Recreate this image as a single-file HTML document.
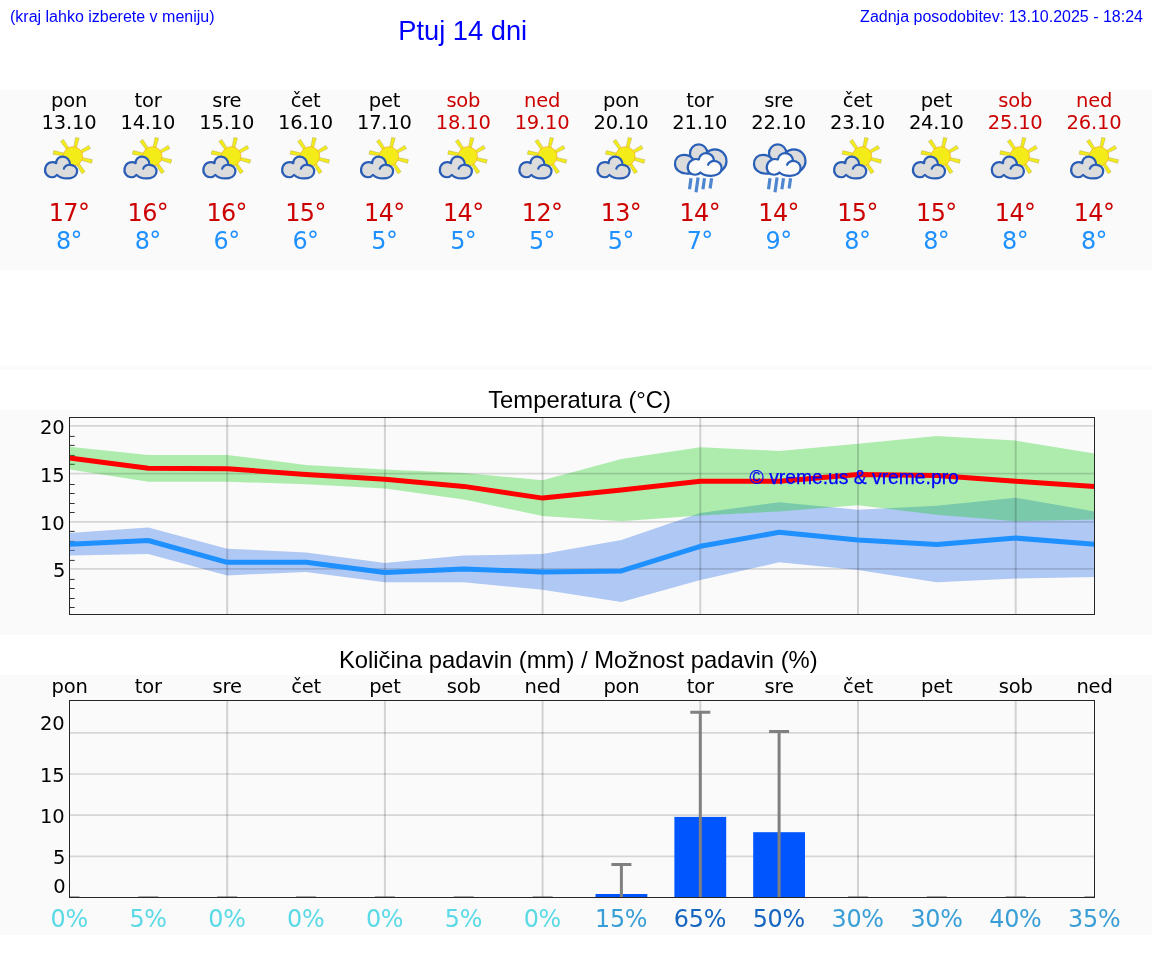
<!DOCTYPE html>
<html lang="sl">
<head>
<meta charset="utf-8">
<title>Ptuj 14 dni</title>
<style>
html,body{margin:0;padding:0;background:#fff;}
body{width:1152px;height:975px;overflow:hidden;position:relative;font-family:"Liberation Sans",sans-serif;}
svg{position:absolute;left:0;top:0;display:block;}
.dj{font-family:"DejaVu Sans","Liberation Sans",sans-serif;}
.ar{font-family:"Liberation Sans",sans-serif;}
.hd{position:absolute;color:#0000ff;white-space:nowrap;line-height:1;font-family:"Liberation Sans",sans-serif;}
</style>
</head>
<body>
<div class="hd" style="left:10px;top:9px;font-size:16px;">(kraj lahko izberete v meniju)</div>
<div class="hd" style="right:9px;top:9px;font-size:16px;">Zadnja posodobitev: 13.10.2025 - 18:24</div>
<svg width="1152" height="975" viewBox="0 0 1152 975">
<defs>
<g id="sc">
 <path d="M30.3,15.4 L24.7,6.4 L21.7,8.4 L28.0,16.9 Z M37.5,15.2 L40.4,5.3 L36.8,4.5 L34.9,14.5 Z M42.4,20.3 L51.7,15.6 L49.9,12.4 L41.1,17.9 Z M42.2,27.0 L52.6,30.3 L53.6,26.7 L42.9,24.4 Z M37.8,31.5 L43.1,40.7 L46.3,38.7 L40.0,30.0 Z M25.8,20.3 L15.0,17.6 L14.2,21.2 L25.2,23.0 Z" fill="#f4ec19" stroke="#a9a24e" stroke-opacity="0.6" stroke-width="0.7"/>
 <circle cx="34.1" cy="23.4" r="9.7" fill="#f4ec19" stroke="#f8b32a" stroke-width="0.8"/>
 <path d="M18.2,41.9 C16.1,44.8 10.4,45.3 7.8,41.7 C4.7,37.5 6.3,30.8 12,29.4 C14.1,28.9 16.1,29.4 17.4,30.2 C17.2,26 20.3,23.7 24,23.7 C28.1,23.7 31.3,27.1 31.3,31.8 C35.4,31.8 38.5,34.9 38.3,38.5 C38,43.2 33.3,45.4 28.1,45.4 C24,45.4 20.3,44.3 18.2,41.9 Z" fill="#dcdcdc" stroke="#2a5db5" stroke-width="2.2" stroke-linejoin="round"/>
 <path d="M31.3,31.8 C28.6,31.5 25.5,33.3 25,35.7" fill="none" stroke="#2a5db5" stroke-width="2.2" stroke-linecap="round"/>
</g>
<g id="rn">
 <g fill="#dcdcdc" stroke="#2a5fb8" stroke-width="2.2">
  <circle cx="45.6" cy="22.9" r="11.6"/>
  <ellipse cx="29.4" cy="15.4" rx="8.7" ry="9"/>
  <path d="M5.7,26 C5.7,20.5 9.3,16.8 14.5,16.8 C17.8,16.8 20.8,17.4 23,20.2 L27,28 L23.5,34 L21.3,35.6 C19.5,35.7 18,35.7 16.5,35.5 C10.5,35.1 5.7,31.5 5.7,26 Z" stroke-linejoin="round"/>
 </g>
 <path d="M31.1,34.5 C28.9,37.5 23.4,37.5 20.3,34.5 C17.2,30.8 17.8,24.6 23.4,21.8 C25.2,20.9 27.7,20.9 29.5,21.5 C30.2,17.8 33.2,15.1 36.9,15.1 C41.2,15.1 44.6,18.5 44.9,22.8 C49.2,22.8 52.3,26.5 52.3,30.2 C52.3,35.1 47.4,37.8 41.8,37.8 C37.5,37.8 33.2,36.6 31.1,34.5 Z" fill="#fbfbfb" stroke="#2a5fb8" stroke-width="2.2" stroke-linejoin="round"/>
 <path d="M44.9,22.8 C42.5,22.8 39.4,24.6 38.8,26.8" fill="none" stroke="#2a5fb8" stroke-width="2.2" stroke-linecap="round"/>
 <g stroke="#3f7dcc" stroke-width="3.2" fill="none" opacity="0.92">
  <path d="M21.7,40.2 L20.2,51.3 M28.8,39.5 L26.7,54.3 M35.2,40.2 L33.6,51.3 M42.3,40.2 L40.8,50.6"/>
 </g>
</g>
</defs>
<text class="ar" transform="translate(398.3,39.8) scale(0.992,1.035)" font-size="27.5" fill="#0000ff">Ptuj 14 dni</text>
<rect x="0" y="90" width="1152" height="180" fill="#fafafa"/>
<rect x="0" y="365" width="1152" height="5" fill="#fbfbfb"/>
<rect x="0" y="410" width="1152" height="225" fill="#fafafa"/>
<rect x="0" y="675" width="1152" height="260" fill="#fafafa"/>

<g class="dj">
<text transform="translate(69.10,106.70) scale(0.975,1)" font-size="20" fill="#000" text-anchor="middle" letter-spacing="-0.2">pon</text>
<text transform="translate(69.00,129.10) scale(0.975,1)" font-size="20" fill="#000" text-anchor="middle" letter-spacing="-0.2">13.10</text>
<use href="#sc" x="38.8" y="133"/>
<text transform="translate(69.00,221.00) scale(0.975,1)" font-size="24.5" fill="#cc0000" text-anchor="middle" letter-spacing="-0.6">17°</text>
<text transform="translate(68.90,248.70) scale(0.975,1)" font-size="24.5" fill="#1e90ff" text-anchor="middle" letter-spacing="-0.6">8°</text>
<text transform="translate(147.95,106.70) scale(0.975,1)" font-size="20" fill="#000" text-anchor="middle" letter-spacing="-0.2">tor</text>
<text transform="translate(147.85,129.10) scale(0.975,1)" font-size="20" fill="#000" text-anchor="middle" letter-spacing="-0.2">14.10</text>
<use href="#sc" x="118.2" y="133"/>
<text transform="translate(147.85,221.00) scale(0.975,1)" font-size="24.5" fill="#cc0000" text-anchor="middle" letter-spacing="-0.6">16°</text>
<text transform="translate(147.75,248.70) scale(0.975,1)" font-size="24.5" fill="#1e90ff" text-anchor="middle" letter-spacing="-0.6">8°</text>
<text transform="translate(226.79,106.70) scale(0.975,1)" font-size="20" fill="#000" text-anchor="middle" letter-spacing="-0.2">sre</text>
<text transform="translate(226.69,129.10) scale(0.975,1)" font-size="20" fill="#000" text-anchor="middle" letter-spacing="-0.2">15.10</text>
<use href="#sc" x="197.1" y="133"/>
<text transform="translate(226.69,221.00) scale(0.975,1)" font-size="24.5" fill="#cc0000" text-anchor="middle" letter-spacing="-0.6">16°</text>
<text transform="translate(226.59,248.70) scale(0.975,1)" font-size="24.5" fill="#1e90ff" text-anchor="middle" letter-spacing="-0.6">6°</text>
<text transform="translate(305.64,106.70) scale(0.975,1)" font-size="20" fill="#000" text-anchor="middle" letter-spacing="-0.2">čet</text>
<text transform="translate(305.54,129.10) scale(0.975,1)" font-size="20" fill="#000" text-anchor="middle" letter-spacing="-0.2">16.10</text>
<use href="#sc" x="275.9" y="133"/>
<text transform="translate(305.54,221.00) scale(0.975,1)" font-size="24.5" fill="#cc0000" text-anchor="middle" letter-spacing="-0.6">15°</text>
<text transform="translate(305.44,248.70) scale(0.975,1)" font-size="24.5" fill="#1e90ff" text-anchor="middle" letter-spacing="-0.6">6°</text>
<text transform="translate(384.48,106.70) scale(0.975,1)" font-size="20" fill="#000" text-anchor="middle" letter-spacing="-0.2">pet</text>
<text transform="translate(384.38,129.10) scale(0.975,1)" font-size="20" fill="#000" text-anchor="middle" letter-spacing="-0.2">17.10</text>
<use href="#sc" x="354.8" y="133"/>
<text transform="translate(384.38,221.00) scale(0.975,1)" font-size="24.5" fill="#cc0000" text-anchor="middle" letter-spacing="-0.6">14°</text>
<text transform="translate(384.28,248.70) scale(0.975,1)" font-size="24.5" fill="#1e90ff" text-anchor="middle" letter-spacing="-0.6">5°</text>
<text transform="translate(463.33,106.70) scale(0.975,1)" font-size="20" fill="#cc0000" text-anchor="middle" letter-spacing="-0.2">sob</text>
<text transform="translate(463.23,129.10) scale(0.975,1)" font-size="20" fill="#cc0000" text-anchor="middle" letter-spacing="-0.2">18.10</text>
<use href="#sc" x="433.6" y="133"/>
<text transform="translate(463.23,221.00) scale(0.975,1)" font-size="24.5" fill="#cc0000" text-anchor="middle" letter-spacing="-0.6">14°</text>
<text transform="translate(463.13,248.70) scale(0.975,1)" font-size="24.5" fill="#1e90ff" text-anchor="middle" letter-spacing="-0.6">5°</text>
<text transform="translate(542.18,106.70) scale(0.975,1)" font-size="20" fill="#cc0000" text-anchor="middle" letter-spacing="-0.2">ned</text>
<text transform="translate(542.08,129.10) scale(0.975,1)" font-size="20" fill="#cc0000" text-anchor="middle" letter-spacing="-0.2">19.10</text>
<use href="#sc" x="513.2" y="133"/>
<text transform="translate(542.08,221.00) scale(0.975,1)" font-size="24.5" fill="#cc0000" text-anchor="middle" letter-spacing="-0.6">12°</text>
<text transform="translate(541.98,248.70) scale(0.975,1)" font-size="24.5" fill="#1e90ff" text-anchor="middle" letter-spacing="-0.6">5°</text>
<text transform="translate(621.02,106.70) scale(0.975,1)" font-size="20" fill="#000" text-anchor="middle" letter-spacing="-0.2">pon</text>
<text transform="translate(620.92,129.10) scale(0.975,1)" font-size="20" fill="#000" text-anchor="middle" letter-spacing="-0.2">20.10</text>
<use href="#sc" x="591.3" y="133"/>
<text transform="translate(620.92,221.00) scale(0.975,1)" font-size="24.5" fill="#cc0000" text-anchor="middle" letter-spacing="-0.6">13°</text>
<text transform="translate(620.82,248.70) scale(0.975,1)" font-size="24.5" fill="#1e90ff" text-anchor="middle" letter-spacing="-0.6">5°</text>
<text transform="translate(699.87,106.70) scale(0.975,1)" font-size="20" fill="#000" text-anchor="middle" letter-spacing="-0.2">tor</text>
<text transform="translate(699.77,129.10) scale(0.975,1)" font-size="20" fill="#000" text-anchor="middle" letter-spacing="-0.2">21.10</text>
<use href="#rn" x="669.3" y="138"/>
<text transform="translate(699.77,221.00) scale(0.975,1)" font-size="24.5" fill="#cc0000" text-anchor="middle" letter-spacing="-0.6">14°</text>
<text transform="translate(699.67,248.70) scale(0.975,1)" font-size="24.5" fill="#1e90ff" text-anchor="middle" letter-spacing="-0.6">7°</text>
<text transform="translate(778.71,106.70) scale(0.975,1)" font-size="20" fill="#000" text-anchor="middle" letter-spacing="-0.2">sre</text>
<text transform="translate(778.61,129.10) scale(0.975,1)" font-size="20" fill="#000" text-anchor="middle" letter-spacing="-0.2">22.10</text>
<use href="#rn" x="748.3" y="138"/>
<text transform="translate(778.61,221.00) scale(0.975,1)" font-size="24.5" fill="#cc0000" text-anchor="middle" letter-spacing="-0.6">14°</text>
<text transform="translate(778.51,248.70) scale(0.975,1)" font-size="24.5" fill="#1e90ff" text-anchor="middle" letter-spacing="-0.6">9°</text>
<text transform="translate(857.56,106.70) scale(0.975,1)" font-size="20" fill="#000" text-anchor="middle" letter-spacing="-0.2">čet</text>
<text transform="translate(857.46,129.10) scale(0.975,1)" font-size="20" fill="#000" text-anchor="middle" letter-spacing="-0.2">23.10</text>
<use href="#sc" x="827.9" y="133"/>
<text transform="translate(857.46,221.00) scale(0.975,1)" font-size="24.5" fill="#cc0000" text-anchor="middle" letter-spacing="-0.6">15°</text>
<text transform="translate(857.36,248.70) scale(0.975,1)" font-size="24.5" fill="#1e90ff" text-anchor="middle" letter-spacing="-0.6">8°</text>
<text transform="translate(936.41,106.70) scale(0.975,1)" font-size="20" fill="#000" text-anchor="middle" letter-spacing="-0.2">pet</text>
<text transform="translate(936.31,129.10) scale(0.975,1)" font-size="20" fill="#000" text-anchor="middle" letter-spacing="-0.2">24.10</text>
<use href="#sc" x="906.7" y="133"/>
<text transform="translate(936.31,221.00) scale(0.975,1)" font-size="24.5" fill="#cc0000" text-anchor="middle" letter-spacing="-0.6">15°</text>
<text transform="translate(936.21,248.70) scale(0.975,1)" font-size="24.5" fill="#1e90ff" text-anchor="middle" letter-spacing="-0.6">8°</text>
<text transform="translate(1015.25,106.70) scale(0.975,1)" font-size="20" fill="#cc0000" text-anchor="middle" letter-spacing="-0.2">sob</text>
<text transform="translate(1015.15,129.10) scale(0.975,1)" font-size="20" fill="#cc0000" text-anchor="middle" letter-spacing="-0.2">25.10</text>
<use href="#sc" x="985.6" y="133"/>
<text transform="translate(1015.15,221.00) scale(0.975,1)" font-size="24.5" fill="#cc0000" text-anchor="middle" letter-spacing="-0.6">14°</text>
<text transform="translate(1015.05,248.70) scale(0.975,1)" font-size="24.5" fill="#1e90ff" text-anchor="middle" letter-spacing="-0.6">8°</text>
<text transform="translate(1094.10,106.70) scale(0.975,1)" font-size="20" fill="#cc0000" text-anchor="middle" letter-spacing="-0.2">ned</text>
<text transform="translate(1094.00,129.10) scale(0.975,1)" font-size="20" fill="#cc0000" text-anchor="middle" letter-spacing="-0.2">26.10</text>
<use href="#sc" x="1064.9" y="133"/>
<text transform="translate(1094.00,221.00) scale(0.975,1)" font-size="24.5" fill="#cc0000" text-anchor="middle" letter-spacing="-0.6">14°</text>
<text transform="translate(1093.90,248.70) scale(0.975,1)" font-size="24.5" fill="#1e90ff" text-anchor="middle" letter-spacing="-0.6">8°</text>
</g>
<text class="ar" x="579.6" y="407.5" font-size="23.8" text-anchor="middle" fill="#000">Temperatura (°C)</text>
<clipPath id="c2"><rect x="69.5" y="417.5" width="1025.0" height="197.0"/></clipPath>
<g clip-path="url(#c2)">
<line x1="69.5" x2="74.7" y1="436.4" y2="436.4" stroke="#333" stroke-width="1"/>
<line x1="69.5" x2="74.7" y1="445.4" y2="445.4" stroke="#333" stroke-width="1"/>
<line x1="69.5" x2="74.7" y1="455.4" y2="455.4" stroke="#333" stroke-width="1"/>
<line x1="69.5" x2="74.7" y1="464.3" y2="464.3" stroke="#333" stroke-width="1"/>
<line x1="69.5" x2="74.7" y1="484.5" y2="484.5" stroke="#333" stroke-width="1"/>
<line x1="69.5" x2="74.7" y1="493.5" y2="493.5" stroke="#333" stroke-width="1"/>
<line x1="69.5" x2="74.7" y1="503.5" y2="503.5" stroke="#333" stroke-width="1"/>
<line x1="69.5" x2="74.7" y1="512.5" y2="512.5" stroke="#333" stroke-width="1"/>
<line x1="69.5" x2="74.7" y1="531.4" y2="531.4" stroke="#333" stroke-width="1"/>
<line x1="69.5" x2="74.7" y1="541.4" y2="541.4" stroke="#333" stroke-width="1"/>
<line x1="69.5" x2="74.7" y1="550.4" y2="550.4" stroke="#333" stroke-width="1"/>
<line x1="69.5" x2="74.7" y1="560.4" y2="560.4" stroke="#333" stroke-width="1"/>
<line x1="69.5" x2="74.7" y1="579.4" y2="579.4" stroke="#333" stroke-width="1"/>
<line x1="69.5" x2="74.7" y1="588.5" y2="588.5" stroke="#333" stroke-width="1"/>
<line x1="69.5" x2="74.7" y1="598.5" y2="598.5" stroke="#333" stroke-width="1"/>
<line x1="69.5" x2="74.7" y1="607.5" y2="607.5" stroke="#333" stroke-width="1"/>
<polygon points="69.5,533.0 148.3,527.4 227.2,548.7 306.0,552.4 384.9,563.1 463.7,555.5 542.6,554.1 621.4,540.1 700.3,512.9 779.1,502.2 858.0,509.8 936.8,505.7 1015.7,497.7 1094.5,511.4 1094.5,577.0 1015.7,578.5 936.8,582.2 858.0,569.9 779.1,562.3 700.3,580.1 621.4,602.1 542.6,589.8 463.7,582.2 384.9,582.2 306.0,571.9 227.2,575.4 148.3,554.1 69.5,555.5" fill="#6495ed" fill-opacity="0.5"/>
<polygon points="69.5,446.8 148.3,455.0 227.2,455.0 306.0,464.9 384.9,469.6 463.7,473.1 542.6,480.2 621.4,459.1 700.3,447.2 779.1,450.9 858.0,443.7 936.8,436.1 1015.7,440.6 1094.5,453.6 1094.5,519.6 1015.7,521.3 936.8,514.7 858.0,505.3 779.1,511.4 700.3,515.5 621.4,521.3 542.6,516.1 463.7,499.5 384.9,488.4 306.0,484.3 227.2,481.7 148.3,481.7 69.5,469.4" fill="#00cc00" fill-opacity="0.3"/>
<line x1="69.5" x2="1094.5" y1="425.9" y2="425.9" stroke="#000" stroke-opacity="0.14" stroke-width="1.7"/>
<line x1="69.5" x2="1094.5" y1="473.7" y2="473.7" stroke="#000" stroke-opacity="0.14" stroke-width="1.7"/>
<line x1="69.5" x2="1094.5" y1="521.9" y2="521.9" stroke="#000" stroke-opacity="0.14" stroke-width="1.7"/>
<line x1="69.5" x2="1094.5" y1="568.9" y2="568.9" stroke="#000" stroke-opacity="0.14" stroke-width="1.7"/>
<line x1="227.2" x2="227.2" y1="417.5" y2="614.5" stroke="#000" stroke-opacity="0.155" stroke-width="2"/>
<line x1="384.9" x2="384.9" y1="417.5" y2="614.5" stroke="#000" stroke-opacity="0.155" stroke-width="2"/>
<line x1="542.6" x2="542.6" y1="417.5" y2="614.5" stroke="#000" stroke-opacity="0.155" stroke-width="2"/>
<line x1="700.3" x2="700.3" y1="417.5" y2="614.5" stroke="#000" stroke-opacity="0.155" stroke-width="2"/>
<line x1="858.0" x2="858.0" y1="417.5" y2="614.5" stroke="#000" stroke-opacity="0.155" stroke-width="2"/>
<line x1="1015.7" x2="1015.7" y1="417.5" y2="614.5" stroke="#000" stroke-opacity="0.155" stroke-width="2"/>
<polyline points="69.5,544.2 148.3,540.5 227.2,562.3 306.0,562.3 384.9,572.5 463.7,568.9 542.6,571.9 621.4,570.9 700.3,546.3 779.1,532.3 858.0,540.1 936.8,544.4 1015.7,538.1 1094.5,544.2" fill="none" stroke="#1e90ff" stroke-width="5" stroke-linejoin="round"/>
<polyline points="69.5,458.1 148.3,468.3 227.2,468.7 306.0,474.5 384.9,479.2 463.7,486.4 542.6,498.1 621.4,489.9 700.3,481.3 779.1,481.3 858.0,474.5 936.8,475.5 1015.7,481.3 1094.5,486.4" fill="none" stroke="#ff0000" stroke-width="5" stroke-linejoin="round"/>
</g>
<rect x="69.5" y="417.5" width="1025.0" height="197.0" fill="none" stroke="#262626" stroke-width="1"/>
<g class="dj">
<text transform="translate(64.60,434.00) scale(0.975,1)" font-size="20" fill="#000" text-anchor="end" letter-spacing="-0.15">20</text>
<text transform="translate(64.60,481.80) scale(0.975,1)" font-size="20" fill="#000" text-anchor="end" letter-spacing="-0.15">15</text>
<text transform="translate(64.60,530.00) scale(0.975,1)" font-size="20" fill="#000" text-anchor="end" letter-spacing="-0.15">10</text>
<text transform="translate(65.30,577.00) scale(0.975,1)" font-size="20" fill="#000" text-anchor="end" letter-spacing="-0.15">5</text>
</g>
<text class="ar" x="749.6" y="484.4" font-size="19.3" fill="#0000ff" stroke="#0000ff" stroke-width="0.25">© vreme.us &amp; vreme.pro</text>
<text class="ar" x="578.3" y="668" font-size="23.8" text-anchor="middle" fill="#000">Količina padavin (mm) / Možnost padavin (%)</text>
<g class="dj">
<text transform="translate(69.50,692.90) scale(0.975,1)" font-size="20" fill="#000" text-anchor="middle" letter-spacing="-0.2">pon</text>
<text transform="translate(148.35,692.90) scale(0.975,1)" font-size="20" fill="#000" text-anchor="middle" letter-spacing="-0.2">tor</text>
<text transform="translate(227.19,692.90) scale(0.975,1)" font-size="20" fill="#000" text-anchor="middle" letter-spacing="-0.2">sre</text>
<text transform="translate(306.04,692.90) scale(0.975,1)" font-size="20" fill="#000" text-anchor="middle" letter-spacing="-0.2">čet</text>
<text transform="translate(384.88,692.90) scale(0.975,1)" font-size="20" fill="#000" text-anchor="middle" letter-spacing="-0.2">pet</text>
<text transform="translate(463.73,692.90) scale(0.975,1)" font-size="20" fill="#000" text-anchor="middle" letter-spacing="-0.2">sob</text>
<text transform="translate(542.58,692.90) scale(0.975,1)" font-size="20" fill="#000" text-anchor="middle" letter-spacing="-0.2">ned</text>
<text transform="translate(621.42,692.90) scale(0.975,1)" font-size="20" fill="#000" text-anchor="middle" letter-spacing="-0.2">pon</text>
<text transform="translate(700.27,692.90) scale(0.975,1)" font-size="20" fill="#000" text-anchor="middle" letter-spacing="-0.2">tor</text>
<text transform="translate(779.11,692.90) scale(0.975,1)" font-size="20" fill="#000" text-anchor="middle" letter-spacing="-0.2">sre</text>
<text transform="translate(857.96,692.90) scale(0.975,1)" font-size="20" fill="#000" text-anchor="middle" letter-spacing="-0.2">čet</text>
<text transform="translate(936.81,692.90) scale(0.975,1)" font-size="20" fill="#000" text-anchor="middle" letter-spacing="-0.2">pet</text>
<text transform="translate(1015.65,692.90) scale(0.975,1)" font-size="20" fill="#000" text-anchor="middle" letter-spacing="-0.2">sob</text>
<text transform="translate(1094.50,692.90) scale(0.975,1)" font-size="20" fill="#000" text-anchor="middle" letter-spacing="-0.2">ned</text>
</g>
<clipPath id="c3"><rect x="69.5" y="700.5" width="1025.0" height="198.0"/></clipPath>
<g clip-path="url(#c3)">
<line x1="69.5" x2="1094.5" y1="732.9" y2="732.9" stroke="#000" stroke-opacity="0.14" stroke-width="1.7"/>
<line x1="69.5" x2="1094.5" y1="774.0" y2="774.0" stroke="#000" stroke-opacity="0.14" stroke-width="1.7"/>
<line x1="69.5" x2="1094.5" y1="815.2" y2="815.2" stroke="#000" stroke-opacity="0.14" stroke-width="1.7"/>
<line x1="69.5" x2="1094.5" y1="856.4" y2="856.4" stroke="#000" stroke-opacity="0.14" stroke-width="1.7"/>
<line x1="227.2" x2="227.2" y1="700.5" y2="897.5" stroke="#000" stroke-opacity="0.155" stroke-width="2"/>
<line x1="384.9" x2="384.9" y1="700.5" y2="897.5" stroke="#000" stroke-opacity="0.155" stroke-width="2"/>
<line x1="542.6" x2="542.6" y1="700.5" y2="897.5" stroke="#000" stroke-opacity="0.155" stroke-width="2"/>
<line x1="700.3" x2="700.3" y1="700.5" y2="897.5" stroke="#000" stroke-opacity="0.155" stroke-width="2"/>
<line x1="858.0" x2="858.0" y1="700.5" y2="897.5" stroke="#000" stroke-opacity="0.155" stroke-width="2"/>
<line x1="1015.7" x2="1015.7" y1="700.5" y2="897.5" stroke="#000" stroke-opacity="0.155" stroke-width="2"/>
<line x1="59.5" x2="79.5" y1="896.5" y2="896.5" stroke="#555" stroke-opacity="0.5" stroke-width="1"/>
<line x1="138.3" x2="158.3" y1="896.5" y2="896.5" stroke="#555" stroke-opacity="0.5" stroke-width="1"/>
<line x1="217.2" x2="237.2" y1="896.5" y2="896.5" stroke="#555" stroke-opacity="0.5" stroke-width="1"/>
<line x1="296.0" x2="316.0" y1="896.5" y2="896.5" stroke="#555" stroke-opacity="0.5" stroke-width="1"/>
<line x1="374.9" x2="394.9" y1="896.5" y2="896.5" stroke="#555" stroke-opacity="0.5" stroke-width="1"/>
<line x1="453.7" x2="473.7" y1="896.5" y2="896.5" stroke="#555" stroke-opacity="0.5" stroke-width="1"/>
<line x1="532.6" x2="552.6" y1="896.5" y2="896.5" stroke="#555" stroke-opacity="0.5" stroke-width="1"/>
<rect x="595.5" y="894.0" width="51.8" height="3.5" fill="#0055ff"/>
<line x1="621.4" x2="621.4" y1="864.4" y2="897.5" stroke="#808080" stroke-width="3"/>
<line x1="611.4" x2="631.4" y1="864.4" y2="864.4" stroke="#808080" stroke-width="3"/>
<rect x="674.4" y="816.9" width="51.8" height="80.6" fill="#0055ff"/>
<line x1="700.3" x2="700.3" y1="712.3" y2="897.5" stroke="#808080" stroke-width="3"/>
<line x1="690.3" x2="710.3" y1="712.3" y2="712.3" stroke="#808080" stroke-width="3"/>
<rect x="753.2" y="832.2" width="51.8" height="65.3" fill="#0055ff"/>
<line x1="779.1" x2="779.1" y1="731.5" y2="897.5" stroke="#808080" stroke-width="3"/>
<line x1="769.1" x2="789.1" y1="731.5" y2="731.5" stroke="#808080" stroke-width="3"/>
<line x1="848.0" x2="868.0" y1="896.5" y2="896.5" stroke="#555" stroke-opacity="0.5" stroke-width="1"/>
<line x1="926.8" x2="946.8" y1="896.5" y2="896.5" stroke="#555" stroke-opacity="0.5" stroke-width="1"/>
<line x1="1005.7" x2="1025.7" y1="896.5" y2="896.5" stroke="#555" stroke-opacity="0.5" stroke-width="1"/>
<line x1="1084.5" x2="1104.5" y1="896.5" y2="896.5" stroke="#555" stroke-opacity="0.5" stroke-width="1"/>
</g>
<rect x="69.5" y="700.5" width="1025.0" height="197.0" fill="none" stroke="#262626" stroke-width="1"/>
<g class="dj">
<text transform="translate(64.60,730.00) scale(0.975,1)" font-size="20" fill="#000" text-anchor="end" letter-spacing="-0.15">20</text>
<text transform="translate(64.60,781.50) scale(0.975,1)" font-size="20" fill="#000" text-anchor="end" letter-spacing="-0.15">15</text>
<text transform="translate(64.60,822.60) scale(0.975,1)" font-size="20" fill="#000" text-anchor="end" letter-spacing="-0.15">10</text>
<text transform="translate(65.30,863.50) scale(0.975,1)" font-size="20" fill="#000" text-anchor="end" letter-spacing="-0.15">5</text>
<text transform="translate(65.50,893.40) scale(0.975,1)" font-size="20" fill="#000" text-anchor="end" letter-spacing="-0.15">0</text>
</g>
<g class="dj">
<text transform="translate(69.20,926.60) scale(0.975,1)" font-size="24.5" fill="#5ad9e7" text-anchor="middle" letter-spacing="-0.3">0%</text>
<text transform="translate(148.05,926.60) scale(0.975,1)" font-size="24.5" fill="#5ad9e7" text-anchor="middle" letter-spacing="-0.3">5%</text>
<text transform="translate(226.89,926.60) scale(0.975,1)" font-size="24.5" fill="#5ad9e7" text-anchor="middle" letter-spacing="-0.3">0%</text>
<text transform="translate(305.74,926.60) scale(0.975,1)" font-size="24.5" fill="#5ad9e7" text-anchor="middle" letter-spacing="-0.3">0%</text>
<text transform="translate(384.58,926.60) scale(0.975,1)" font-size="24.5" fill="#5ad9e7" text-anchor="middle" letter-spacing="-0.3">0%</text>
<text transform="translate(463.43,926.60) scale(0.975,1)" font-size="24.5" fill="#5ad9e7" text-anchor="middle" letter-spacing="-0.3">5%</text>
<text transform="translate(542.28,926.60) scale(0.975,1)" font-size="24.5" fill="#5ad9e7" text-anchor="middle" letter-spacing="-0.3">0%</text>
<text transform="translate(621.12,926.60) scale(0.975,1)" font-size="24.5" fill="#3a9ed6" text-anchor="middle" letter-spacing="-0.3">15%</text>
<text transform="translate(699.97,926.60) scale(0.975,1)" font-size="24.5" fill="#1565c0" text-anchor="middle" letter-spacing="-0.3">65%</text>
<text transform="translate(778.81,926.60) scale(0.975,1)" font-size="24.5" fill="#1565c0" text-anchor="middle" letter-spacing="-0.3">50%</text>
<text transform="translate(857.66,926.60) scale(0.975,1)" font-size="24.5" fill="#3a9ed6" text-anchor="middle" letter-spacing="-0.3">30%</text>
<text transform="translate(936.51,926.60) scale(0.975,1)" font-size="24.5" fill="#3a9ed6" text-anchor="middle" letter-spacing="-0.3">30%</text>
<text transform="translate(1015.35,926.60) scale(0.975,1)" font-size="24.5" fill="#3a9ed6" text-anchor="middle" letter-spacing="-0.3">40%</text>
<text transform="translate(1094.20,926.60) scale(0.975,1)" font-size="24.5" fill="#3a9ed6" text-anchor="middle" letter-spacing="-0.3">35%</text>
</g>
</svg>
</body>
</html>
